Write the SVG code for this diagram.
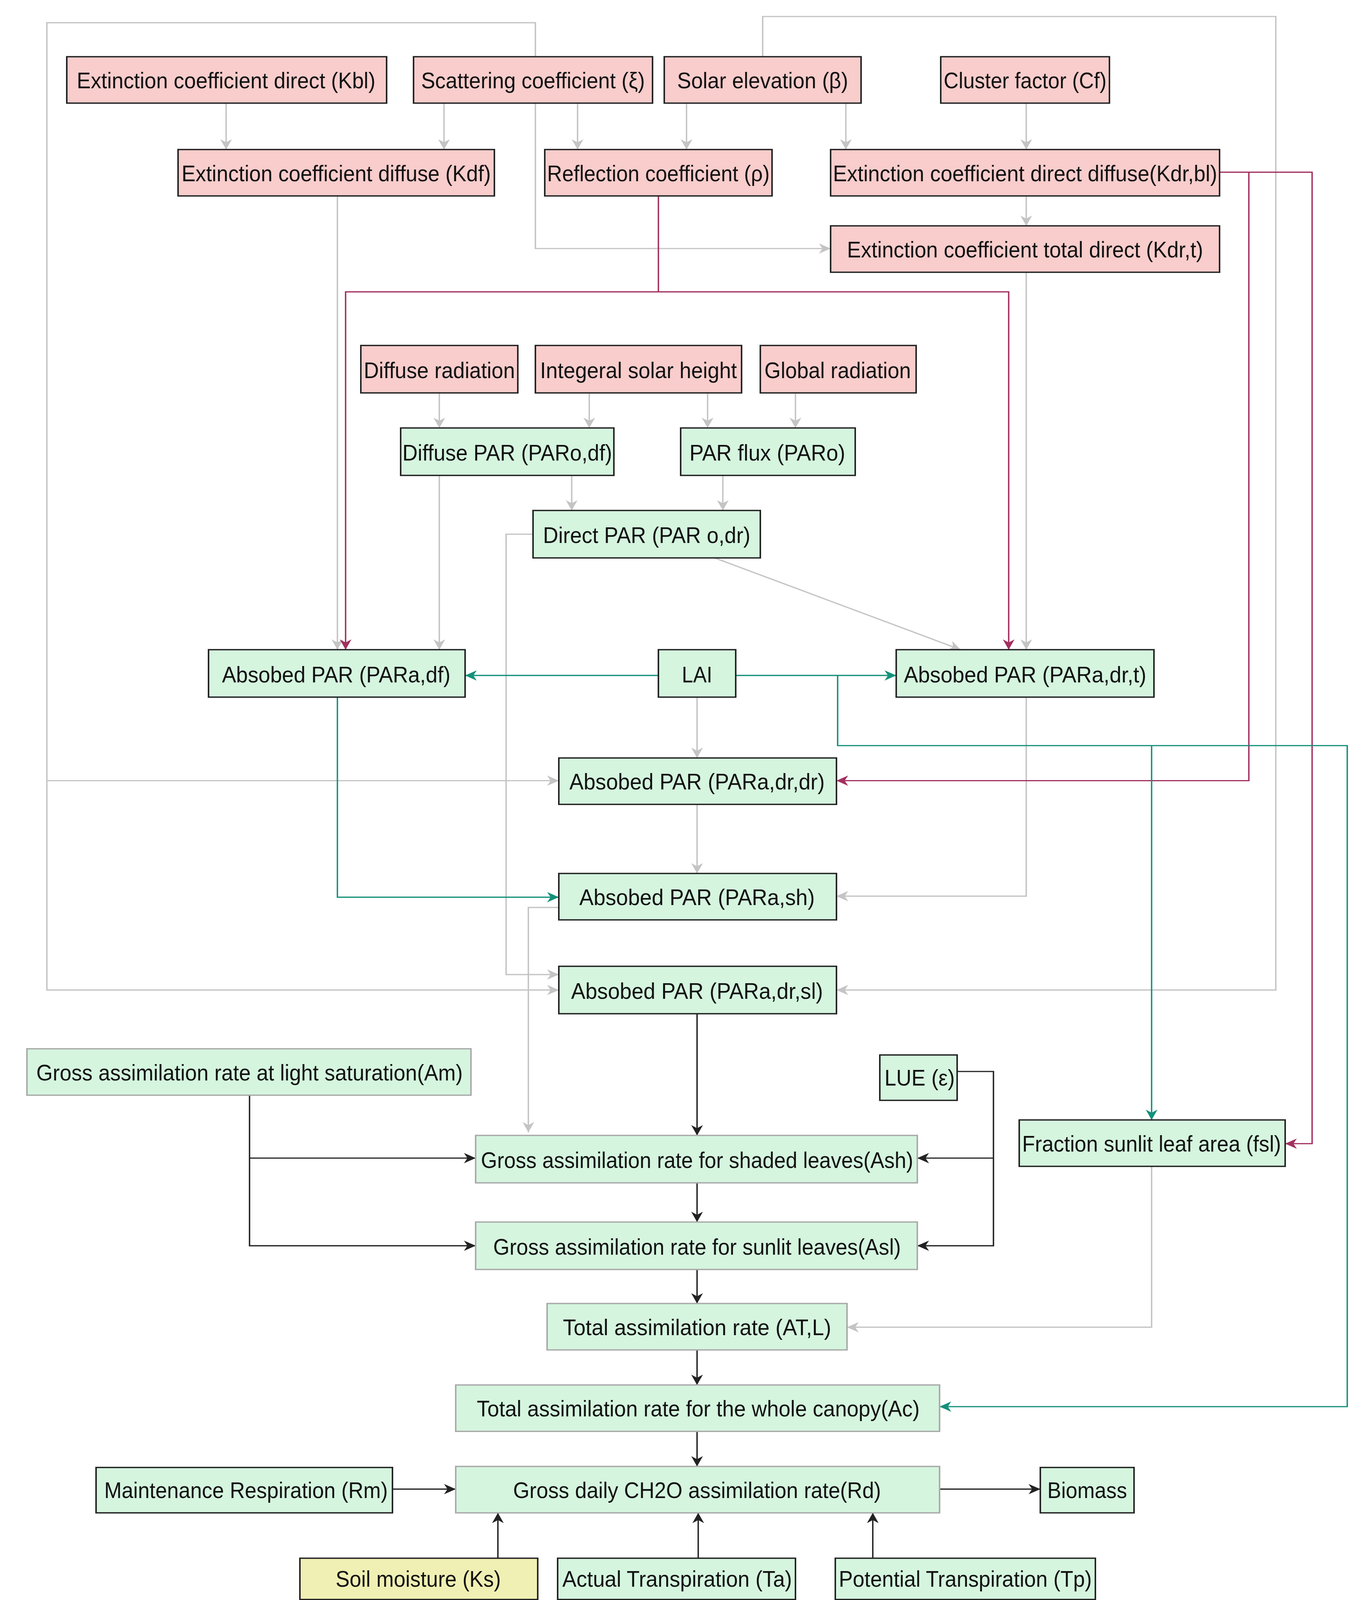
<svg xmlns="http://www.w3.org/2000/svg" width="3498" height="4684" viewBox="0 0 3498 4684">
<style>
.p{fill:#f8cdcc;stroke:#222;stroke-width:1.3}
.g{fill:#d5f5df;stroke:#222;stroke-width:1.3}
.y{fill:#f0f0b4;stroke:#222;stroke-width:1.3}
text{font-family:"Liberation Sans",Arial,sans-serif;font-size:22px;fill:#111;text-anchor:middle;dominant-baseline:central}
.cg{stroke:#c4c4c4;stroke-width:1.2;fill:none}
.cr{stroke:#a3305f;stroke-width:1.2;fill:none}
.ct{stroke:#13917a;stroke-width:1.2;fill:none}
.ck{stroke:#222;stroke-width:1.2;fill:none}
</style>
<defs>
<marker id="ag" viewBox="0 0 10 10" refX="10" refY="5" markerWidth="10" markerHeight="10" markerUnits="userSpaceOnUse" orient="auto"><path d="M0,0L10,5L0,10L3,5z" fill="#c4c4c4"/></marker>
<marker id="ar" viewBox="0 0 10 10" refX="10" refY="5" markerWidth="10" markerHeight="10" markerUnits="userSpaceOnUse" orient="auto"><path d="M0,0L10,5L0,10L3,5z" fill="#a3305f"/></marker>
<marker id="at" viewBox="0 0 10 10" refX="10" refY="5" markerWidth="10" markerHeight="10" markerUnits="userSpaceOnUse" orient="auto"><path d="M0,0L10,5L0,10L3,5z" fill="#13917a"/></marker>
<marker id="ak" viewBox="0 0 10 10" refX="10" refY="5" markerWidth="10" markerHeight="10" markerUnits="userSpaceOnUse" orient="auto"><path d="M0,0L10,5L0,10L3,5z" fill="#222"/></marker>
</defs>
<rect width="3498" height="4684" fill="#fff"/>
<g transform="scale(3,2.64)">
<g id="connectors">
<path class="cg" marker-end="url(#ag)" d="M193,100V145"/>
<path class="cg" marker-end="url(#ag)" d="M379,100V145"/>
<path class="cg" marker-end="url(#ag)" d="M493,100V145"/>
<path class="cg" marker-end="url(#ag)" d="M586,100V145"/>
<path class="cg" marker-end="url(#ag)" d="M722,100V145"/>
<path class="cg" marker-end="url(#ag)" d="M876,100V145"/>
<path class="cg" marker-end="url(#ag)" d="M876,190V219"/>
<path class="cg" marker-end="url(#ag)" d="M457,55V22H40V960H477"/>
<path class="cg" d="M457,55V100"/>
<path class="cg" marker-end="url(#ag)" d="M457,100V241H709"/>
<path class="cg" marker-end="url(#ag)" d="M40,757H477"/>
<path class="cg" marker-end="url(#ag)" d="M651,55V16H1089V960H714"/>
<path class="cg" marker-end="url(#ag)" d="M288,190V630"/>
<path class="cg" marker-end="url(#ag)" d="M876,264V630"/>
<path class="cg" marker-end="url(#ag)" d="M876,676V869H714"/>
<path class="cg" marker-end="url(#ag)" d="M375,381V415"/>
<path class="cg" marker-end="url(#ag)" d="M503,381V415"/>
<path class="cg" marker-end="url(#ag)" d="M604,381V415"/>
<path class="cg" marker-end="url(#ag)" d="M679,381V415"/>
<path class="cg" marker-end="url(#ag)" d="M375,461V630"/>
<path class="cg" marker-end="url(#ag)" d="M488,461V495"/>
<path class="cg" marker-end="url(#ag)" d="M617,461V495"/>
<path class="cg" marker-end="url(#ag)" d="M455,518H432V945H477"/>
<path class="cg" marker-end="url(#ag)" d="M610,541L820,630"/>
<path class="cg" marker-end="url(#ag)" d="M595,676V735"/>
<path class="cg" marker-end="url(#ag)" d="M595,780V847"/>
<path class="cg" marker-end="url(#ag)" d="M477,880H451V1098"/>
<path class="cg" marker-end="url(#ag)" d="M983,1131V1287H723"/>
<path class="cr" d="M562,190V283"/>
<path class="cr" marker-end="url(#ar)" d="M562,283H295V630"/>
<path class="cr" marker-end="url(#ar)" d="M562,283H861V630"/>
<path class="cr" marker-end="url(#ar)" d="M1041,167H1120V1109H1097"/>
<path class="cr" marker-end="url(#ar)" d="M1066,167V757H714"/>
<path class="ct" marker-end="url(#at)" d="M562,655H397"/>
<path class="ct" marker-end="url(#at)" d="M628,655H765"/>
<path class="ct" marker-end="url(#at)" d="M715,655V723H1150V1364H802"/>
<path class="ct" marker-end="url(#at)" d="M983,723V1086"/>
<path class="ct" marker-end="url(#at)" d="M288,676V870H477"/>
<path class="ck" marker-end="url(#ak)" d="M595,983V1101"/>
<path class="ck" marker-end="url(#ak)" d="M213,1062V1208H406"/>
<path class="ck" marker-end="url(#ak)" d="M213,1123H406"/>
<path class="ck" marker-end="url(#ak)" d="M817,1039H848V1208H783"/>
<path class="ck" marker-end="url(#ak)" d="M848,1123H783"/>
<path class="ck" marker-end="url(#ak)" d="M595,1147V1185"/>
<path class="ck" marker-end="url(#ak)" d="M595,1231V1264"/>
<path class="ck" marker-end="url(#ak)" d="M595,1309V1343"/>
<path class="ck" marker-end="url(#ak)" d="M595,1388V1422"/>
<path class="ck" marker-end="url(#ak)" d="M335,1444H389"/>
<path class="ck" marker-end="url(#ak)" d="M802,1444H888"/>
<path class="ck" marker-end="url(#ak)" d="M425,1511V1467"/>
<path class="ck" marker-end="url(#ak)" d="M596,1511V1467"/>
<path class="ck" marker-end="url(#ak)" d="M745,1511V1467"/>
</g>
<g id="kbl"><rect class="p" x="57" y="55" width="273" height="45"/><text x="193" y="78" textLength="255" lengthAdjust="spacingAndGlyphs">Extinction coefficient direct (Kbl)</text></g>
<g id="scat"><rect class="p" x="353" y="55" width="204" height="45"/><text x="455" y="78" textLength="191" lengthAdjust="spacingAndGlyphs">Scattering coefficient (ξ)</text></g>
<g id="solar"><rect class="p" x="567" y="55" width="168" height="45"/><text x="651" y="78" textLength="146" lengthAdjust="spacingAndGlyphs">Solar elevation (β)</text></g>
<g id="cf"><rect class="p" x="803" y="55" width="144" height="45"/><text x="875" y="78" textLength="139" lengthAdjust="spacingAndGlyphs">Cluster factor (Cf)</text></g>
<g id="kdf"><rect class="p" x="152" y="145" width="270" height="45"/><text x="287" y="168" textLength="264" lengthAdjust="spacingAndGlyphs">Extinction coefficient diffuse (Kdf)</text></g>
<g id="refl"><rect class="p" x="465" y="145" width="194" height="45"/><text x="562" y="168" textLength="190" lengthAdjust="spacingAndGlyphs">Reflection coefficient (ρ)</text></g>
<g id="kdrbl"><rect class="p" x="709" y="145" width="332" height="45"/><text x="875" y="168" textLength="328" lengthAdjust="spacingAndGlyphs">Extinction coefficient direct diffuse(Kdr,bl)</text></g>
<g id="kdrt"><rect class="p" x="709" y="219" width="332" height="45"/><text x="875" y="242" textLength="304" lengthAdjust="spacingAndGlyphs">Extinction coefficient total direct (Kdr,t)</text></g>
<g id="difrad"><rect class="p" x="308" y="335" width="134" height="46"/><text x="375" y="359" textLength="129" lengthAdjust="spacingAndGlyphs">Diffuse radiation</text></g>
<g id="ish"><rect class="p" x="457" y="335" width="176" height="46"/><text x="545" y="359" textLength="168" lengthAdjust="spacingAndGlyphs">Integeral solar height</text></g>
<g id="glob"><rect class="p" x="649" y="335" width="133" height="46"/><text x="715" y="359" textLength="125" lengthAdjust="spacingAndGlyphs">Global radiation</text></g>
<g id="difpar"><rect class="g" x="342" y="415" width="182" height="46"/><text x="433" y="439" textLength="179" lengthAdjust="spacingAndGlyphs">Diffuse PAR (PARo,df)</text></g>
<g id="parflux"><rect class="g" x="581" y="415" width="149" height="46"/><text x="655" y="439" textLength="133" lengthAdjust="spacingAndGlyphs">PAR flux (PARo)</text></g>
<g id="dirpar"><rect class="g" x="455" y="495" width="194" height="46"/><text x="552" y="519" textLength="177" lengthAdjust="spacingAndGlyphs">Direct PAR (PAR o,dr)</text></g>
<g id="padf"><rect class="g" x="178" y="630" width="219" height="46"/><text x="287" y="654" textLength="195" lengthAdjust="spacingAndGlyphs">Absobed PAR (PARa,df)</text></g>
<g id="lai"><rect class="g" x="562" y="630" width="66" height="46"/><text x="595" y="654" textLength="26" lengthAdjust="spacingAndGlyphs">LAI</text></g>
<g id="padrt"><rect class="g" x="765" y="630" width="220" height="46"/><text x="875" y="654" textLength="207" lengthAdjust="spacingAndGlyphs">Absobed PAR (PARa,dr,t)</text></g>
<g id="padrdr"><rect class="g" x="477" y="735" width="237" height="45"/><text x="595" y="758" textLength="218" lengthAdjust="spacingAndGlyphs">Absobed PAR (PARa,dr,dr)</text></g>
<g id="pash"><rect class="g" x="477" y="847" width="237" height="45"/><text x="595" y="870" textLength="201" lengthAdjust="spacingAndGlyphs">Absobed PAR (PARa,sh)</text></g>
<g id="padrsl"><rect class="g" x="477" y="937" width="237" height="46"/><text x="595" y="961" textLength="215" lengthAdjust="spacingAndGlyphs">Absobed PAR (PARa,dr,sl)</text></g>
<g id="am"><rect class="g" x="23" y="1017" width="379" height="45" style="stroke:#aaa"/><text x="213" y="1040" textLength="364" lengthAdjust="spacingAndGlyphs">Gross assimilation rate at light saturation(Am)</text></g>
<g id="lue"><rect class="g" x="751" y="1023" width="66" height="44"/><text x="785" y="1045" textLength="60" lengthAdjust="spacingAndGlyphs">LUE (ε)</text></g>
<g id="ash"><rect class="g" x="406" y="1101" width="377" height="46" style="stroke:#aaa"/><text x="595" y="1125" textLength="369" lengthAdjust="spacingAndGlyphs">Gross assimilation rate for shaded leaves(Ash)</text></g>
<g id="fsl"><rect class="g" x="870" y="1086" width="227" height="45"/><text x="983" y="1109" textLength="221" lengthAdjust="spacingAndGlyphs">Fraction sunlit leaf area (fsl)</text></g>
<g id="asl"><rect class="g" x="406" y="1185" width="377" height="46" style="stroke:#aaa"/><text x="595" y="1209" textLength="348" lengthAdjust="spacingAndGlyphs">Gross assimilation rate for sunlit leaves(Asl)</text></g>
<g id="atl"><rect class="g" x="467" y="1264" width="256" height="45" style="stroke:#aaa"/><text x="595" y="1287" textLength="229" lengthAdjust="spacingAndGlyphs">Total assimilation rate (AT,L)</text></g>
<g id="ac"><rect class="g" x="389" y="1343" width="413" height="45" style="stroke:#aaa"/><text x="596" y="1366" textLength="378" lengthAdjust="spacingAndGlyphs">Total assimilation rate for the whole canopy(Ac)</text></g>
<g id="rm"><rect class="g" x="82" y="1423" width="253" height="44"/><text x="210" y="1445" textLength="242" lengthAdjust="spacingAndGlyphs">Maintenance Respiration (Rm)</text></g>
<g id="rd"><rect class="g" x="389" y="1422" width="413" height="45" style="stroke:#aaa"/><text x="595" y="1445" textLength="314" lengthAdjust="spacingAndGlyphs">Gross daily CH2O assimilation rate(Rd)</text></g>
<g id="bio"><rect class="g" x="888" y="1423" width="80" height="44"/><text x="928" y="1445" textLength="68" lengthAdjust="spacingAndGlyphs">Biomass</text></g>
<g id="ks"><rect class="y" x="256" y="1511" width="203" height="40"/><text x="357" y="1531" textLength="141" lengthAdjust="spacingAndGlyphs">Soil moisture (Ks)</text></g>
<g id="ta"><rect class="g" x="476" y="1511" width="203" height="40"/><text x="578" y="1531" textLength="196" lengthAdjust="spacingAndGlyphs">Actual Transpiration (Ta)</text></g>
<g id="tp"><rect class="g" x="713" y="1511" width="222" height="40"/><text x="824" y="1531" textLength="216" lengthAdjust="spacingAndGlyphs">Potential Transpiration (Tp)</text></g>
</g>
</svg>
